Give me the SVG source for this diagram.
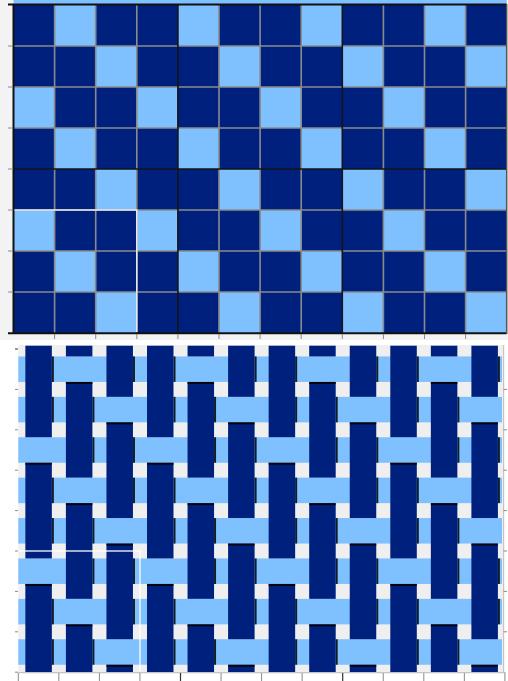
<svg xmlns="http://www.w3.org/2000/svg" xmlns:xlink="http://www.w3.org/1999/xlink" width="508" height="681" viewBox="0 0 508 681">
<style>
.dk{fill:#00207e}
.lt{fill:#7fc0ff}
.gl{stroke:#8a8a8a;stroke-width:1.6;fill:none}
.bl{stroke:#151515;stroke-width:1.6;fill:none}
.tk{stroke:#8a8a8a;stroke-width:1;fill:none}
.sh{fill:#000;opacity:0.85}
.sel{stroke:#ffffff;stroke-width:1.5;fill:none;opacity:0.85}
</style>
<defs>
<g id="warpA">
<rect class="sh" x="13.25" y="356.45" width="2" height="25.5"/>
<rect class="sh" x="13.25" y="396.85" width="2" height="25.5"/>
<rect class="sh" x="13.25" y="477.65" width="2" height="25.5"/>
<rect class="sh" x="13.25" y="518.05" width="2" height="25.5"/>
<rect class="sh" x="13.25" y="598.85" width="2" height="25.5"/>
<rect class="sh" x="13.25" y="639.25" width="2" height="25.5"/>
<rect class="dk" x="-13.25" y="345.7" width="26.5" height="91.55"/>
<rect class="dk" x="-13.25" y="462.75" width="26.5" height="95.7"/>
<rect class="dk" x="-13.25" y="583.95" width="26.5" height="88.05"/>
<rect class="sh" x="-13.25" y="462.75" width="26.5" height="2"/>
<rect class="sh" x="-13.25" y="583.95" width="26.5" height="2"/>
</g>
<g id="warpB">
<rect class="sh" x="13.25" y="396.85" width="2" height="25.5"/>
<rect class="sh" x="13.25" y="437.25" width="2" height="25.5"/>
<rect class="sh" x="13.25" y="518.05" width="2" height="25.5"/>
<rect class="sh" x="13.25" y="558.45" width="2" height="25.5"/>
<rect class="sh" x="13.25" y="639.25" width="2" height="25.5"/>
<rect class="dk" x="-13.25" y="345.7" width="26.5" height="10.75"/>
<rect class="dk" x="-13.25" y="381.95" width="26.5" height="95.7"/>
<rect class="dk" x="-13.25" y="503.15" width="26.5" height="95.7"/>
<rect class="dk" x="-13.25" y="624.35" width="26.5" height="47.65"/>
<rect class="sh" x="-13.25" y="381.95" width="26.5" height="2"/>
<rect class="sh" x="-13.25" y="503.15" width="26.5" height="2"/>
<rect class="sh" x="-13.25" y="624.35" width="26.5" height="2"/>
</g>
<g id="warpC">
<rect class="sh" x="13.25" y="356.45" width="2" height="25.5"/>
<rect class="sh" x="13.25" y="437.25" width="2" height="25.5"/>
<rect class="sh" x="13.25" y="477.65" width="2" height="25.5"/>
<rect class="sh" x="13.25" y="558.45" width="2" height="25.5"/>
<rect class="sh" x="13.25" y="598.85" width="2" height="25.5"/>
<rect class="dk" x="-13.25" y="345.7" width="26.5" height="51.15"/>
<rect class="dk" x="-13.25" y="422.35" width="26.5" height="95.7"/>
<rect class="dk" x="-13.25" y="543.55" width="26.5" height="95.7"/>
<rect class="dk" x="-13.25" y="664.75" width="26.5" height="7.25"/>
<rect class="sh" x="-13.25" y="422.35" width="26.5" height="2"/>
<rect class="sh" x="-13.25" y="543.55" width="26.5" height="2"/>
<rect class="sh" x="-13.25" y="664.75" width="26.5" height="2"/>
</g>
</defs>
<rect x="0" y="0" width="508" height="681" fill="#ffffff"/>
<rect x="0" y="0" width="13.5" height="340" fill="#f3f3f3"/>
<rect x="0" y="333" width="508" height="7" fill="#f3f3f3"/>

<g id="draft">
<rect x="13.5" y="0" width="493.2" height="4" class="lt"/>
<rect x="13.5" y="5" width="493.2" height="328" class="dk"/>
<g id="draft-lifts">
<rect class="lt" x="54.6" y="5" width="41.1" height="41"/>
<rect class="lt" x="177.9" y="5" width="41.1" height="41"/>
<rect class="lt" x="301.2" y="5" width="41.1" height="41"/>
<rect class="lt" x="424.5" y="5" width="41.1" height="41"/>
<rect class="lt" x="95.7" y="46" width="41.1" height="41"/>
<rect class="lt" x="219" y="46" width="41.1" height="41"/>
<rect class="lt" x="342.3" y="46" width="41.1" height="41"/>
<rect class="lt" x="465.6" y="46" width="41.1" height="41"/>
<rect class="lt" x="13.5" y="87" width="41.1" height="41"/>
<rect class="lt" x="136.8" y="87" width="41.1" height="41"/>
<rect class="lt" x="260.1" y="87" width="41.1" height="41"/>
<rect class="lt" x="383.4" y="87" width="41.1" height="41"/>
<rect class="lt" x="54.6" y="128" width="41.1" height="41"/>
<rect class="lt" x="177.9" y="128" width="41.1" height="41"/>
<rect class="lt" x="301.2" y="128" width="41.1" height="41"/>
<rect class="lt" x="424.5" y="128" width="41.1" height="41"/>
<rect class="lt" x="95.7" y="169" width="41.1" height="41"/>
<rect class="lt" x="219" y="169" width="41.1" height="41"/>
<rect class="lt" x="342.3" y="169" width="41.1" height="41"/>
<rect class="lt" x="465.6" y="169" width="41.1" height="41"/>
<rect class="lt" x="13.5" y="210" width="41.1" height="41"/>
<rect class="lt" x="136.8" y="210" width="41.1" height="41"/>
<rect class="lt" x="260.1" y="210" width="41.1" height="41"/>
<rect class="lt" x="383.4" y="210" width="41.1" height="41"/>
<rect class="lt" x="54.6" y="251" width="41.1" height="41"/>
<rect class="lt" x="177.9" y="251" width="41.1" height="41"/>
<rect class="lt" x="301.2" y="251" width="41.1" height="41"/>
<rect class="lt" x="424.5" y="251" width="41.1" height="41"/>
<rect class="lt" x="95.7" y="292" width="41.1" height="41"/>
<rect class="lt" x="219" y="292" width="41.1" height="41"/>
<rect class="lt" x="342.3" y="292" width="41.1" height="41"/>
<rect class="lt" x="465.6" y="292" width="41.1" height="41"/>
</g>
<path class="gl" d="M54.6,5V333M95.7,5V333M136.8,5V333M219,5V333M260.1,5V333M301.2,5V333M383.4,5V333M424.5,5V333M465.6,5V333M13.5,46H506.7M13.5,87H506.7M13.5,128H506.7M13.5,210H506.7M13.5,251H506.7M13.5,292H506.7"/>
<path class="bl" d="M177.9,5V333M342.3,5V333M13.5,169H506.7"/>
<path stroke="#111" stroke-width="2" fill="none" d="M13.5,4V334M8,4.6H506.7M8,333.2H506.7"/>
<path stroke="#555" stroke-width="1.5" fill="none" d="M506.7,4V334"/>
<path class="tk" d="M8,46H13M8,87H13M8,128H13M8,169H13M8,210H13M8,251H13M8,292H13M54.6,334V339M95.7,334V339M136.8,334V339M177.9,334V339M219,334V339M260.1,334V339M301.2,334V339M342.3,334V339M383.4,334V339M424.5,334V339M465.6,334V339"/>
<path class="sel" d="M14.5,210H136.8V332"/>
</g>

<g id="weave">
<rect x="18.3" y="345" width="485" height="327" fill="#efefef"/>
<g id="wefts">
<rect class="lt" x="18.3" y="356.45" width="483.7" height="25.5"/>
<rect class="lt" x="18.3" y="396.85" width="483.7" height="25.5"/>
<rect class="lt" x="18.3" y="437.25" width="483.7" height="25.5"/>
<rect class="lt" x="18.3" y="477.65" width="483.7" height="25.5"/>
<rect class="lt" x="18.3" y="518.05" width="483.7" height="25.5"/>
<rect class="lt" x="18.3" y="558.45" width="483.7" height="25.5"/>
<rect class="lt" x="18.3" y="598.85" width="483.7" height="25.5"/>
<rect class="lt" x="18.3" y="639.25" width="483.7" height="25.5"/>
</g>
<g id="warps">
<use xlink:href="#warpA" x="38.6"/>
<use xlink:href="#warpB" x="79.15"/>
<use xlink:href="#warpC" x="119.7"/>
<use xlink:href="#warpA" x="160.25"/>
<use xlink:href="#warpB" x="200.8"/>
<use xlink:href="#warpC" x="241.35"/>
<use xlink:href="#warpA" x="281.9"/>
<use xlink:href="#warpB" x="322.45"/>
<use xlink:href="#warpC" x="363"/>
<use xlink:href="#warpA" x="403.55"/>
<use xlink:href="#warpB" x="444.1"/>
<use xlink:href="#warpC" x="484.65"/>
</g>
<path stroke="#c4c4c4" stroke-width="1.2" fill="none" d="M18.3,672.6H506M503.6,345V673"/>
<path class="tk" d="M18.3,673V681M58.85,673V681M99.4,673V681M139.95,673V681M221.05,673V681M261.6,673V681M302.15,673V681M383.25,673V681M423.8,673V681M464.35,673V681M504.9,673V681M503.6,389.4H507M503.6,429.8H507M503.6,470.2H507M503.6,510.6H507M503.6,551H507M503.6,591.4H507M503.6,631.8H507M15,389.4H18M15,429.8H18M15,470.2H18M15,510.6H18M15,551H18M15,591.4H18M15,631.8H18M15,672.2H18"/>
<path stroke="#333" stroke-width="1.2" fill="none" d="M180.5,673V681M342.7,673V681M15,349H18"/>
<path class="sel" d="M18.8,551H140V671.5"/>
</g>
</svg>
